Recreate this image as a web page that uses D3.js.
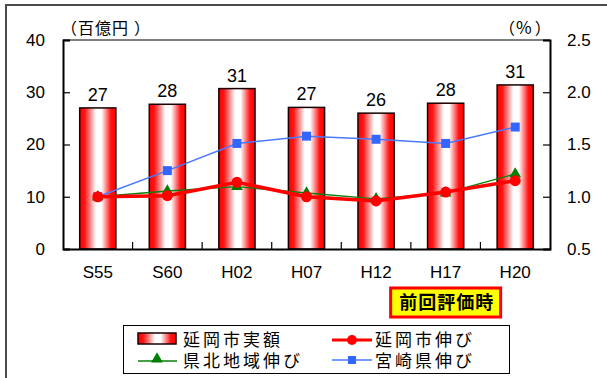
<!DOCTYPE html>
<html>
<head>
<meta charset="utf-8">
<script src="https://cdn.jsdelivr.net/npm/d3@7"></script>
<style>
  html, body { margin: 0; padding: 0; background: #fff; }
  svg { display: block; }
  .num { font-family: "Liberation Sans", Arial, sans-serif; fill: #000; }
  .jp { font-family: "Noto Sans CJK JP", "Noto Sans", sans-serif; fill: #000; }
  .jpl { font-family: "Liberation Sans", "Noto Sans CJK JP", sans-serif; fill: #000; }
</style>
</head>
<body>
<svg id="chart" width="607" height="378"></svg>
<script>
// Fiscal years (Showa / Heisei)
const categories = ["S55", "S60", "H02", "H07", "H12", "H17", "H20"];
// Nobeoka city actual amount (100 million yen)
const nobeokaAmount = [27.0, 27.7, 30.7, 27.1, 26.0, 27.9, 31.4];
// Growth ratios relative to S55
const nobeokaGrowth = [1.00, 1.01, 1.138, 1.00, 0.96, 1.045, 1.154];
const kenpokuGrowth = [1.00, 1.055, 1.096, 1.036, 0.98, 1.036, 1.218];
const miyazakiGrowth = [1.00, 1.25, 1.51, 1.58, 1.55, 1.51, 1.667];
// Axis ticks
const leftTicks = [0, 10, 20, 30, 40];
const rightTicks = [0.5, 1.0, 1.5, 2.0, 2.5];

const svg = d3.select("#chart");
const plot = { left: 63, right: 550, top: 40, bottom: 249 };

const x = d3.scaleBand().domain(categories).range([plot.left, plot.right]).paddingInner(0).paddingOuter(0);
const yL = d3.scaleLinear().domain([0, 40]).range([plot.bottom, plot.top]);
const yR = d3.scaleLinear().domain([0.5, 2.5]).range([plot.bottom, plot.top]);

// outer frame
svg.append("rect").attr("x", 6).attr("y", 5).attr("width", 720).attr("height", 500)
  .attr("fill", "none").attr("stroke", "#4a4a4a").attr("stroke-width", 2);

// bar gradient: red edges, white centre
const defs = svg.append("defs");
const grad = defs.append("linearGradient").attr("id", "barGrad")
  .attr("x1", "0%").attr("x2", "100%").attr("y1", "0%").attr("y2", "0%");
grad.append("stop").attr("offset", "0%").attr("stop-color", "#ff0000");
grad.append("stop").attr("offset", "14%").attr("stop-color", "#ff1414");
grad.append("stop").attr("offset", "45%").attr("stop-color", "#ffffff");
grad.append("stop").attr("offset", "60%").attr("stop-color", "#ffffff");
grad.append("stop").attr("offset", "86%").attr("stop-color", "#ff1414");
grad.append("stop").attr("offset", "100%").attr("stop-color", "#ff0000");

// plot frame (top border)
svg.append("line").attr("x1", plot.left).attr("x2", plot.right).attr("y1", plot.top).attr("y2", plot.top)
  .attr("stroke", "#000").attr("stroke-width", 1.2);

// bars
const bw = x.bandwidth() * 0.52;
svg.append("g").selectAll("rect").data(categories).join("rect")
  .attr("x", (d) => x(d) + x.bandwidth() / 2 - bw / 2)
  .attr("y", (d, i) => yL(nobeokaAmount[i]))
  .attr("width", bw)
  .attr("height", (d, i) => yL(0) - yL(nobeokaAmount[i]))
  .attr("fill", "url(#barGrad)")
  .attr("stroke", "#1a0000").attr("stroke-width", 1.5);

// bar value labels
svg.append("g").selectAll("text").data(categories).join("text")
  .attr("class", "num")
  .attr("x", (d) => x(d) + x.bandwidth() / 2)
  .attr("y", (d, i) => yL(nobeokaAmount[i]) - 7)
  .attr("text-anchor", "middle")
  .attr("font-size", 18)
  .text((d, i) => d3.format(".0f")(nobeokaAmount[i]));

// left axis
const axL = svg.append("g").attr("transform", `translate(${plot.left},0)`)
  .call(d3.axisLeft(yL).tickValues(leftTicks).tickSize(-7).tickPadding(18).tickFormat(d3.format("d")));
axL.select(".domain").attr("stroke", "#000").attr("stroke-width", 2);
axL.selectAll(".tick line").attr("stroke", "#000").attr("stroke-width", 1.2);
axL.selectAll(".tick text").attr("class", "num").attr("font-size", 17).attr("font-family", null);

// right axis
const axR = svg.append("g").attr("transform", `translate(${plot.right},0)`)
  .call(d3.axisRight(yR).tickValues(rightTicks).tickSize(-7).tickPadding(17).tickFormat(d3.format(".1f")));
axR.select(".domain").attr("stroke", "#000").attr("stroke-width", 2);
axR.selectAll(".tick line").attr("stroke", "#000").attr("stroke-width", 1.2);
axR.selectAll(".tick text").attr("class", "num").attr("font-size", 17).attr("font-family", null);

// bottom axis: labels at category centres, ticks at category boundaries
const axB = svg.append("g").attr("transform", `translate(0,${plot.bottom})`)
  .call(d3.axisBottom(x).tickSize(0).tickPadding(17));
axB.select(".domain").attr("stroke", "#000").attr("stroke-width", 2);
axB.selectAll(".tick text").attr("class", "num").attr("font-size", 17).attr("font-family", null);
svg.append("g").selectAll("line").data(categories.slice(1)).join("line")
  .attr("x1", (d) => x(d)).attr("x2", (d) => x(d))
  .attr("y1", plot.bottom).attr("y2", plot.bottom - 7)
  .attr("stroke", "#000").attr("stroke-width", 1.2);

// unit labels
const unitL = svg.append("text").attr("class", "jp").attr("x", 61).attr("y", 34)
  .attr("font-size", 16).attr("letter-spacing", 1);
unitL.append("tspan").text("（百億円");
unitL.append("tspan").attr("dx", 5).text("）");
const unitR = svg.append("text").attr("class", "jp").attr("x", 499).attr("y", 34).attr("font-size", 16);
unitR.append("tspan").text("（");
unitR.append("tspan").attr("dx", 1).attr("font-size", 17).text("%");
unitR.append("tspan").attr("dx", 3).text("）");

const cx = (d) => x(d) + x.bandwidth() / 2;

// growth lines
function drawLine(values, color, width) {
  svg.append("path")
    .datum(values)
    .attr("fill", "none").attr("stroke", color).attr("stroke-width", width)
    .attr("d", d3.line().x((v, i) => cx(categories[i])).y((v) => yR(v)));
}
drawLine(miyazakiGrowth, "#4a78ff", 1.5);
drawLine(kenpokuGrowth, "#0a800a", 1.3);
drawLine(nobeokaGrowth, "#ff0000", 3.5);

const triangle = d3.symbol().type(d3.symbolTriangle).size(60);
svg.append("g").selectAll("path").data(kenpokuGrowth).join("path")
  .attr("transform", (v, i) => `translate(${cx(categories[i])},${yR(v)})`)
  .attr("d", triangle).attr("fill", "#008000");
svg.append("g").selectAll("rect").data(miyazakiGrowth).join("rect")
  .attr("x", (v, i) => cx(categories[i]) - 4.5).attr("y", (v) => yR(v) - 4.5)
  .attr("width", 9).attr("height", 9).attr("fill", "#3366ff");
svg.append("g").selectAll("circle").data(nobeokaGrowth).join("circle")
  .attr("cx", (v, i) => cx(categories[i])).attr("cy", (v) => yR(v))
  .attr("r", 5.5).attr("fill", "#ff0000");

// previous evaluation marker
const prevX = cx("H17");
svg.append("rect").attr("x", prevX - 55).attr("y", 288).attr("width", 110).attr("height", 29)
  .attr("fill", "#ffff00").attr("stroke", "#ff0000").attr("stroke-width", 3);
svg.append("text").attr("class", "jpl").attr("x", prevX + 1).attr("y", 309)
  .attr("text-anchor", "middle").attr("font-size", 18).attr("font-weight", "bold")
  .attr("letter-spacing", 1).text("前回評価時");

// legend
const lg = svg.append("g");
lg.append("rect").attr("x", 123.5).attr("y", 325.5).attr("width", 386).attr("height", 48)
  .attr("fill", "#fff").attr("stroke", "#000").attr("stroke-width", 1);
lg.append("rect").attr("x", 138).attr("y", 333).attr("width", 38).attr("height", 11)
  .attr("fill", "url(#barGrad)").attr("stroke", "#1a0000").attr("stroke-width", 1.5);
lg.append("line").attr("x1", 332).attr("x2", 372).attr("y1", 340).attr("y2", 340).attr("stroke", "#ff0000").attr("stroke-width", 3);
lg.append("circle").attr("cx", 352).attr("cy", 340).attr("r", 5).attr("fill", "#ff0000");
lg.append("line").attr("x1", 138).attr("x2", 177).attr("y1", 361).attr("y2", 361).attr("stroke", "#0a800a").attr("stroke-width", 1.3);
lg.append("path").attr("transform", "translate(157,359)").attr("d", triangle).attr("fill", "#008000");
lg.append("line").attr("x1", 332).attr("x2", 372).attr("y1", 360).attr("y2", 360).attr("stroke", "#4a78ff").attr("stroke-width", 1.5);
lg.append("rect").attr("x", 348).attr("y", 356).attr("width", 8).attr("height", 8).attr("fill", "#3366ff");
const legendLabels = [
  { t: "延岡市実額", x: 183, y: 346 },
  { t: "延岡市伸び", x: 375, y: 346 },
  { t: "県北地域伸び", x: 183, y: 367 },
  { t: "宮崎県伸び", x: 375, y: 367 }
];
lg.selectAll("text.lbl").data(legendLabels).join("text")
  .attr("class", "jpl lbl").attr("x", (d) => d.x).attr("y", (d) => d.y)
  .attr("font-size", 17).attr("letter-spacing", 3).text((d) => d.t);
</script>
</body>
</html>
